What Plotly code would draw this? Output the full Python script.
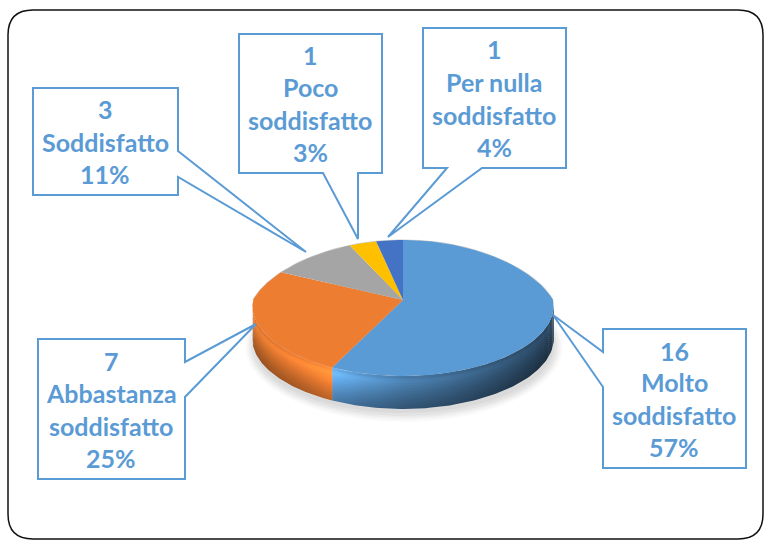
import numpy as np
import plotly.graph_objects as go

# ---- data ----
categories = ["Molto soddisfatto", "Abbastanza soddisfatto", "Soddisfatto", "Poco soddisfatto", "Per nulla soddisfatto"]
values = [16, 7, 3, 1, 1]
percent_labels = ["57%", "25%", "11%", "3%", "4%"]
label_lines = [["Molto", "soddisfatto"], ["Abbastanza", "soddisfatto"], ["Soddisfatto"], ["Poco", "soddisfatto"], ["Per nulla", "soddisfatto"]]

# ---- styles / layout ----
W, H = 764, 540
colors = ["#5b9bd5", "#ed7d31", "#a5a5a5", "#ffc000", "#4472c4"]
BORDER = "#5b9bd5"
CX, CY, R, A, K, KX, KF, DEPTH = 403, 300, 150, 67, 0.1176, 0.25, 0.09, 33

# side shading: (x pixel, brightness) for each wedge that shows a side
side_stops = {
    0: [(330, 1.12), (365, 0.92), (403, 0.76), (480, 0.58), (555, 0.40)],
    1: [(252, 0.88), (300, 0.98), (332, 1.10)],
}
# vertical profile of the wall: (position in wall, brightness)
profile_t = [0.0, 0.12, 0.25, 0.5, 0.75, 1.0]
profile_f = [1.0, 1.14, 1.06, 0.92, 0.80, 0.70]
N_LAYERS = 16

# callouts: box (l, t, r, b), pointer side, pointer start, tip, pointer end
callouts = {
    0: dict(box=(603, 329, 746, 468), side="l", p=(352, 387), tip=(553, 315), cx=674, ys=[351, 382, 415, 447]),
    1: dict(box=(38, 339, 185, 479), side="r", p=(362, 397), tip=(256, 324), cx=111, ys=[361, 393, 426, 458]),
    2: dict(box=(33, 88, 178, 195), side="r", p=(151, 177), tip=(306, 252), cx=105, ys=[109, 142, 174]),
    3: dict(box=(239, 34, 382, 173), side="b", p=(323, 358), tip=(358, 239), cx=310, ys=[55, 87, 120, 152]),
    4: dict(box=(423, 28, 566, 168), side="b", p=(447, 482), tip=(388, 237), cx=494, ys=[49, 82, 115, 147]),
}


def rim(theta):
    """Perspective projection of a point on the pie's rim (theta clockwise from top)."""
    c = np.cos(theta)
    den_x = 1 + KX * np.maximum(c, 0) + KF * np.minimum(c, 0)
    return CX + R * np.sin(theta) / den_x, CY - A * c / (1 + K * c)


def shade(hex_color, f):
    rgb = [int(hex_color[i:i + 2], 16) for i in (1, 3, 5)]
    return "rgb(%d,%d,%d)" % tuple(min(255, round(c * f)) for c in rgb)


fractions = np.array(values) / sum(values)
edges = np.concatenate([[0], np.cumsum(fractions)]) * 2 * np.pi
limit_a, limit_b = np.arccos(-KF), 2 * np.pi - np.arccos(-KF)

fig = go.Figure()

# soft shadow
for grow, alpha in [(6, 0.018), (4, 0.025), (2, 0.03), (0, 0.035), (-3, 0.04)]:
    t = np.linspace(0, 2 * np.pi, 121)
    fig.add_trace(go.Scatter(x=404 + (153 + grow) * np.cos(t), y=346 + (70 + grow) * np.sin(t),
                             mode="lines", fill="toself", line=dict(width=0),
                             fillcolor=f"rgba(0,0,0,{alpha})", hoverinfo="skip", showlegend=False))

# faint halo on the back rim
th = np.linspace(-np.pi / 2, np.pi / 2, 120)
bx, by = rim(th)
fig.add_trace(go.Scatter(x=bx, y=by, mode="lines", line=dict(color="rgba(90,90,90,0.3)", width=1.2),
                         hoverinfo="skip", showlegend=False))

# side walls: painted bottom layer first, each layer reaching down over the previous one's top
for i, stops in side_stops.items():
    a0, a1 = max(edges[i], limit_a), min(edges[i + 1], limit_b)
    th = np.linspace(a0, a1, 90)
    px, py = rim(th)
    xs = [s[0] for s in stops]
    lo, hi = min(xs), max(xs)
    for k in range(N_LAYERS - 1, -1, -1):
        t0, t1 = k / N_LAYERS, (k + 1) / N_LAYERS
        f = float(np.interp((t0 + t1) / 2, profile_t, profile_f))
        scale = [[(x - lo) / (hi - lo), shade(colors[i], b * f)] for x, b in stops]
        fig.add_trace(go.Scatter(
            x=np.concatenate([px, px[::-1]]),
            y=np.concatenate([py + DEPTH * t0, (py + DEPTH * t1 + (1 if k < N_LAYERS - 1 else 0))[::-1]]),
            mode="lines", fill="toself", line=dict(width=0),
            fillgradient=dict(type="horizontal", colorscale=scale, start=lo, stop=hi),
            hoverinfo="skip", showlegend=False))

# top face
for i, name in enumerate(categories):
    th = np.linspace(edges[i], edges[i + 1], 120)
    px, py = rim(th)
    fig.add_trace(go.Scatter(
        x=np.concatenate([[CX], px, [CX]]), y=np.concatenate([[CY], py, [CY]]),
        mode="lines", fill="toself", line=dict(width=0), fillcolor=colors[i],
        name=name, text=f"{name}: {values[i]} ({percent_labels[i]})", hoverinfo="text", showlegend=False))

# frame
l, t, r, b, rad = 8, 10, 763, 539, 25
shapes = [dict(type="path", layer="above", line=dict(color="#111111", width=1.5),
               path=f"M{l + rad},{t} L{r - rad},{t} Q{r},{t} {r},{t + rad} L{r},{b - rad} Q{r},{b} {r - rad},{b} "
                    f"L{l + rad},{b} Q{l},{b} {l},{b - rad} L{l},{t + rad} Q{l},{t} {l + rad},{t} Z")]

annotations = []
for i, c in callouts.items():
    bl, bt, br, bb = c["box"]
    p0, p1 = c["p"]
    tx, ty = c["tip"]
    if c["side"] == "l":
        path = f"M{bl},{bt} L{br},{bt} L{br},{bb} L{bl},{bb} L{bl},{p1} L{tx},{ty} L{bl},{p0} Z"
    elif c["side"] == "r":
        path = f"M{bl},{bt} L{br},{bt} L{br},{p0} L{tx},{ty} L{br},{p1} L{br},{bb} L{bl},{bb} Z"
    else:
        path = f"M{bl},{bt} L{br},{bt} L{br},{bb} L{p1},{bb} L{tx},{ty} L{p0},{bb} L{bl},{bb} Z"
    shapes.append(dict(type="path", path=path, layer="above", fillcolor="white", line=dict(color=BORDER, width=2)))
    lines = [str(values[i])] + label_lines[i] + [percent_labels[i]]
    for txt, y in zip(lines, c["ys"]):
        annotations.append(dict(x=c["cx"], y=y, xref="x", yref="y", text=f"<b>{txt}</b>", showarrow=False,
                                xanchor="center", yanchor="middle",
                                font=dict(family="Lato", size=25, color=BORDER)))

fig.update_layout(
    width=W, height=H, margin=dict(l=0, r=0, t=0, b=0),
    paper_bgcolor="white", plot_bgcolor="white", showlegend=False,
    xaxis=dict(range=[0, W], visible=False, fixedrange=True),
    yaxis=dict(range=[H, 0], visible=False, fixedrange=True),
    shapes=shapes, annotations=annotations,
)
fig.write_html("out.html", config=dict(displayModeBar=False),
               post_script="document.body.style.margin='0';document.documentElement.style.overflow='hidden';")
